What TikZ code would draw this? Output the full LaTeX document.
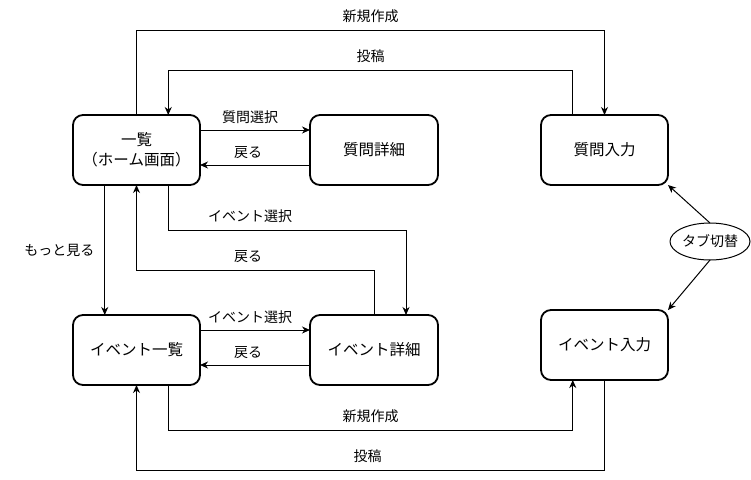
\documentclass[tikz,border=0pt]{standalone}
\usepackage{fontspec}
\setmainfont{Noto Sans CJK JP}
\usetikzlibrary{calc,arrows.meta,shapes.geometric}
\begin{document}
\begin{tikzpicture}[x=1pt,y=-1pt,
  box/.style={draw, line width=1.8pt, rounded corners=10pt, minimum width=127pt, minimum height=70pt, inner sep=0pt, outer sep=0pt, font=\fontsize{15.5}{20}\selectfont, align=center},
  tabbox/.style={draw, ellipse, line width=1pt, minimum width=80pt, minimum height=37pt, inner sep=0pt, outer sep=0pt, font=\fontsize{14}{16}\selectfont},
  arr/.style={line width=1pt, -{Stealth[length=8pt,width=7pt,inset=2.5pt]}},
  lbl/.style={font=\fontsize{14}{16}\selectfont, inner sep=2pt}
]
\useasboundingbox (0,0) rectangle (751,479);

\node[box] (L) at (136.5,150) {一覧\\（ホーム画面）};
\node[box, minimum width=128pt] (QD) at (374,150) {質問詳細};
\node[box] (QI) at (604.5,150) {質問入力};
\node[box] (EL) at (136.5,350) {イベント一覧};
\node[box, minimum width=128pt] (ED) at (374,350) {イベント詳細};
\node[box] (EI) at (604.5,345) {イベント入力};
\node[tabbox] (T) at (710,241.5) {タブ切替};

\coordinate (LNa) at ($(L.north west)!0.75!(L.north east)$);
\coordinate (LSa) at ($(L.south west)!0.25!(L.south east)$);
\coordinate (LSb) at ($(L.south west)!0.75!(L.south east)$);
\coordinate (QIa) at ($(QI.north west)!0.25!(QI.north east)$);
\coordinate (ELNa) at ($(EL.north west)!0.25!(EL.north east)$);
\coordinate (ELSb) at ($(EL.south west)!0.75!(EL.south east)$);
\coordinate (EDNb) at ($(ED.north west)!0.75!(ED.north east)$);
\coordinate (EISa) at ($(EI.south west)!0.25!(EI.south east)$);

% top loops
\draw[arr] (L.north) -- ++(0,-85) -| node[pos=0.25, lbl, above=5pt]{新規作成} (QI.north);
\draw[arr] (QIa) -- ++(0,-45) -| node[pos=0.25, lbl, above=5pt]{投稿} (LNa);

% question detail
\draw[arr] ($(L.east)+(0,-20)$) -- node[lbl, above=4pt, xshift=-5pt]{質問選択} ($(QD.west)+(0,-20)$);
\draw[arr] ($(QD.west)+(0,15)$) -- node[lbl, above=4pt, xshift=-7pt]{戻る} ($(L.east)+(0,15)$);

% more
\draw[arr] (LSa) -- node[lbl, left=8pt]{もっと見る} (ELNa);

% event detail from home
\draw[arr] (LSb) -- ++(0,45) -| node[pos=0.172, lbl, above=4.5pt]{イベント選択} (EDNb);
\draw[arr] (ED.north) -- ++(0,-45) -| node[pos=0.265, lbl, above=4.5pt]{戻る} (L.south);

% event detail from list
\draw[arr] ($(EL.east)+(0,-20)$) -- node[lbl, above=4pt, xshift=-5pt]{イベント選択} ($(ED.west)+(0,-20)$);
\draw[arr] ($(ED.west)+(0,15)$) -- node[lbl, above=4pt, xshift=-7pt]{戻る} ($(EL.east)+(0,15)$);

% bottom loops
\draw[arr] (ELSb) -- ++(0,45) -| node[pos=0.25, lbl, above=5pt]{新規作成} (EISa);
\draw[arr] (EI.south) -- ++(0,90) -| node[pos=0.253, lbl, above=5pt]{投稿} (EL.south);

% tab switch
\draw[arr] (T.north) -- (QI.south east);
\draw[arr] (T.south) -- (EI.north east);
\end{tikzpicture}
\end{document}
